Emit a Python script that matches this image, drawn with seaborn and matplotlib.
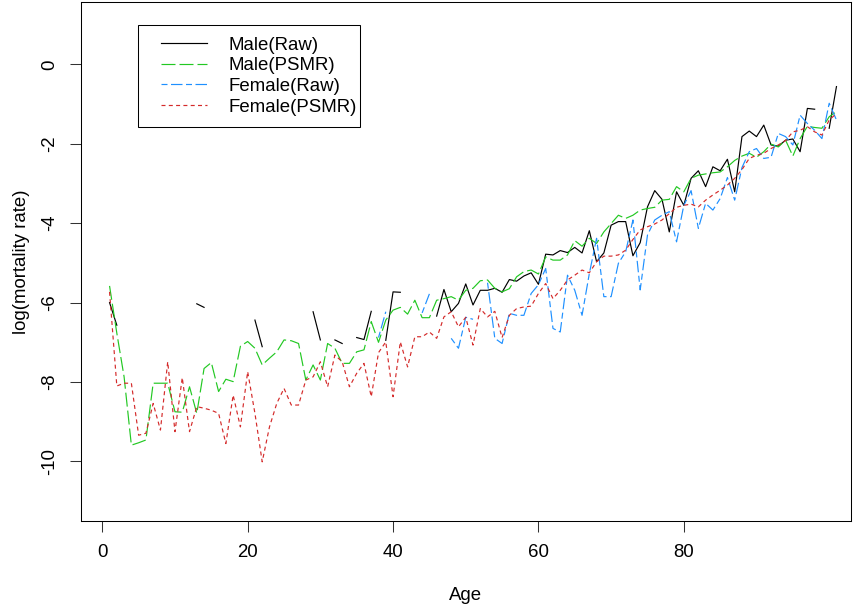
import numpy as np
import pandas as pd
import matplotlib
matplotlib.use("Agg")
import matplotlib.pyplot as plt
from matplotlib.lines import Line2D
from matplotlib.patches import Rectangle
import seaborn as sns

nan = np.nan

# ages 1..101 on the x axis
ages = list(range(1, 102))

male_raw = [
    -6.00, -6.57, nan, nan, nan, nan, nan, nan, nan, nan,
    nan, nan, -6.03, -6.12, nan, nan, nan, nan, nan, nan,
    -6.44, -7.11, nan, nan, nan, nan, nan, nan, -6.23, -6.94,
    nan, -6.94, -7.03, nan, -6.88, -6.93, -6.22, nan, -6.95, -5.73,
    -5.74, nan, nan, nan, nan, -6.34, -5.67, -6.23, -6.02, -5.53,
    -6.06, -5.69, -5.69, -5.64, -5.74, -5.42, -5.46, -5.33, -5.25, -5.54,
    -4.78, -4.80, -4.69, -4.74, -4.61, -4.75, -4.19, -4.97, -4.75, -4.05,
    -3.96, -3.96, -4.82, -4.49, -3.59, -3.18, -3.40, -4.22, -3.21, -3.55,
    -2.87, -2.68, -3.08, -2.58, -2.68, -2.39, -3.21, -1.82, -1.68, -1.82,
    -1.53, -2.03, -2.06, -1.91, -1.88, -2.20, -1.11, -1.13, nan, -1.61,
    -0.56,
]

male_psmr = [
    -5.58, -6.77, -7.87, -9.59, -9.53, -9.46, -8.03, -8.03, -8.03, -8.75,
    -8.76, -8.12, -8.79, -7.66, -7.51, -8.24, -7.93, -7.99, -7.10, -6.98,
    -7.15, -7.57, -7.40, -7.24, -6.94, -6.96, -7.03, -7.95, -7.57, -7.95,
    -7.03, -7.15, -7.53, -7.53, -7.24, -7.19, -6.48, -7.00, -6.44, -6.19,
    -6.12, -6.29, -5.94, -6.38, -6.38, -5.94, -5.90, -5.85, -5.94, -5.69,
    -5.64, -5.45, -5.43, -5.64, -5.73, -5.65, -5.35, -5.22, -5.18, -5.28,
    -4.85, -4.93, -4.93, -4.80, -4.44, -4.58, -4.38, -4.51, -4.22, -4.01,
    -3.80, -3.88, -3.80, -3.67, -3.63, -3.60, -3.42, -3.40, -3.08, -3.21,
    -2.87, -2.79, -2.76, -2.73, -2.71, -2.58, -2.42, -2.31, -2.24, -2.34,
    -2.20, -2.01, -2.08, -1.91, -2.31, -1.87, -1.56, -1.59, -1.61, -1.32,
    -1.19,
]

female_raw = [
    nan, nan, nan, nan, nan, nan, nan, nan, nan, nan,
    nan, nan, nan, nan, nan, nan, nan, nan, nan, nan,
    nan, nan, nan, nan, nan, nan, nan, nan, nan, nan,
    nan, nan, nan, nan, nan, nan, nan, -6.88, -6.23, nan,
    nan, nan, nan, -6.26, -5.78, nan, nan, -6.90, -7.15, -6.37,
    -6.42, nan, -5.50, -6.90, -7.03, -6.27, -6.32, -6.32, -5.77, -5.55,
    -5.14, -6.65, -6.74, -5.31, -5.69, -6.32, -5.27, -4.38, -5.85, -5.85,
    -5.01, -4.72, -3.92, -5.68, -4.30, -3.92, -3.80, -3.71, -4.47, -3.55,
    -3.18, -4.13, -3.50, -3.67, -3.38, -2.85, -3.42, -2.60, -2.20, -2.12,
    -2.37, -2.34, -1.74, -1.82, -2.03, -1.28, -1.49, -1.66, -1.87, -0.98,
    -1.40,
]

female_psmr = [
    -5.73, -8.10, -8.03, -8.03, -9.34, -9.29, -8.54, -9.21, -7.49, -9.25,
    -7.89, -9.25, -8.62, -8.66, -8.71, -8.79, -9.55, -8.33, -9.13, -7.74,
    -8.79, -10.01, -9.13, -8.54, -8.16, -8.58, -8.58, -7.95, -7.87, -7.49,
    -8.12, -7.32, -7.49, -8.12, -7.78, -7.53, -8.37, -7.26, -6.99, -8.37,
    -6.99, -7.62, -6.86, -6.86, -6.74, -6.90, -6.36, -6.23, -6.61, -6.37,
    -7.07, -6.15, -6.36, -6.22, -6.88, -6.32, -6.15, -6.11, -6.09, -5.77,
    -5.52, -5.90, -5.69, -5.43, -5.31, -5.18, -5.25, -4.97, -4.83, -4.83,
    -4.80, -4.68, -4.41, -4.17, -4.09, -4.02, -3.92, -3.76, -3.60, -3.55,
    -3.52, -3.59, -3.42, -3.29, -3.17, -3.04, -2.87, -2.65, -2.37, -2.29,
    -2.24, -2.12, -2.03, -1.92, -1.70, -1.66, -1.57, -1.70, -1.78, -1.40,
    -1.24,
]

names = ["Male(Raw)", "Male(PSMR)", "Female(Raw)", "Female(PSMR)"]
colors = ["#000000", "#22C822", "#1E90FF", "#D42A2A"]

# dash patterns in pixels, turned into linewidth units below
lw = 0.85
lw_px = lw * 100 / 72
dash_px = [(), (14, 4), (6, 3.5, 11.5, 3.5), (4, 3.3)]
dashes = {n: tuple(v / lw_px for v in d) if d else "" for n, d in zip(names, dash_px)}

# long table; gaps (log of zero deaths) split a series into separate pieces
frames = []
for name, vals in zip(names, [male_raw, male_psmr, female_raw, female_psmr]):
    d = pd.DataFrame({"age": ages, "logm": vals, "series": name})
    d["piece"] = name + "_" + d["logm"].isna().cumsum().astype(str)
    frames.append(d.dropna())
df = pd.concat(frames, ignore_index=True)

plt.rcParams["font.family"] = ["Liberation Sans", "DejaVu Sans"]
plt.rcParams["font.size"] = 13.4

fig = plt.figure(figsize=(8.58, 6.05), dpi=100)
W, H = 858, 605
ax = fig.add_axes([80.7 / W, 1 - 521 / H, (851 - 80.7) / W, (521 - 2) / H])

sns.lineplot(data=df, x="age", y="logm", hue="series", style="series",
             units="piece", estimator=None, palette=dict(zip(names, colors)),
             dashes=dashes, hue_order=names, style_order=names,
             linewidth=lw, legend=False, ax=ax)

ax.set_xlim(-2.97, 103.0)
ax.set_ylim(-11.50, 1.57)
ax.set_xticks([0, 20, 40, 60, 80])
ax.set_yticks([-10, -8, -6, -4, -2, 0])
ax.set_yticklabels(["-10", "-8", "-6", "-4", "-2", "0"], rotation=90, va="center")
ax.tick_params(direction="out", length=7.9, width=0.75, color="#333333", pad=8)
ax.tick_params(axis="x", pad=9)
for s in ax.spines.values():
    s.set_linewidth(0.75)
    s.set_color("black")
ax.set_xlabel("Age", labelpad=18.5)
ax.set_ylabel("log(mortality rate)", labelpad=8.6)

# legend with a plain box like base R
ax.add_patch(Rectangle((138 / W, 1 - 127 / H), 222 / W, 102 / H, transform=fig.transFigure,
                       facecolor="white", edgecolor="black", linewidth=0.75, zorder=4))
handles = [Line2D([], [], color=c, linewidth=lw, dashes=dashes[n] if dashes[n] else (None, None))
           for n, c in zip(names, colors)]
handles[0].set_linestyle("-")
ax.legend(handles, names, loc="upper left", bbox_to_anchor=(161 / W, 1 - 36.8 / H),
          bbox_transform=fig.transFigure, frameon=False, borderpad=0, borderaxespad=0,
          labelspacing=0.19, handlelength=2.47, handletextpad=1.18).set_zorder(5)

fig.savefig("out.png", dpi=100)
